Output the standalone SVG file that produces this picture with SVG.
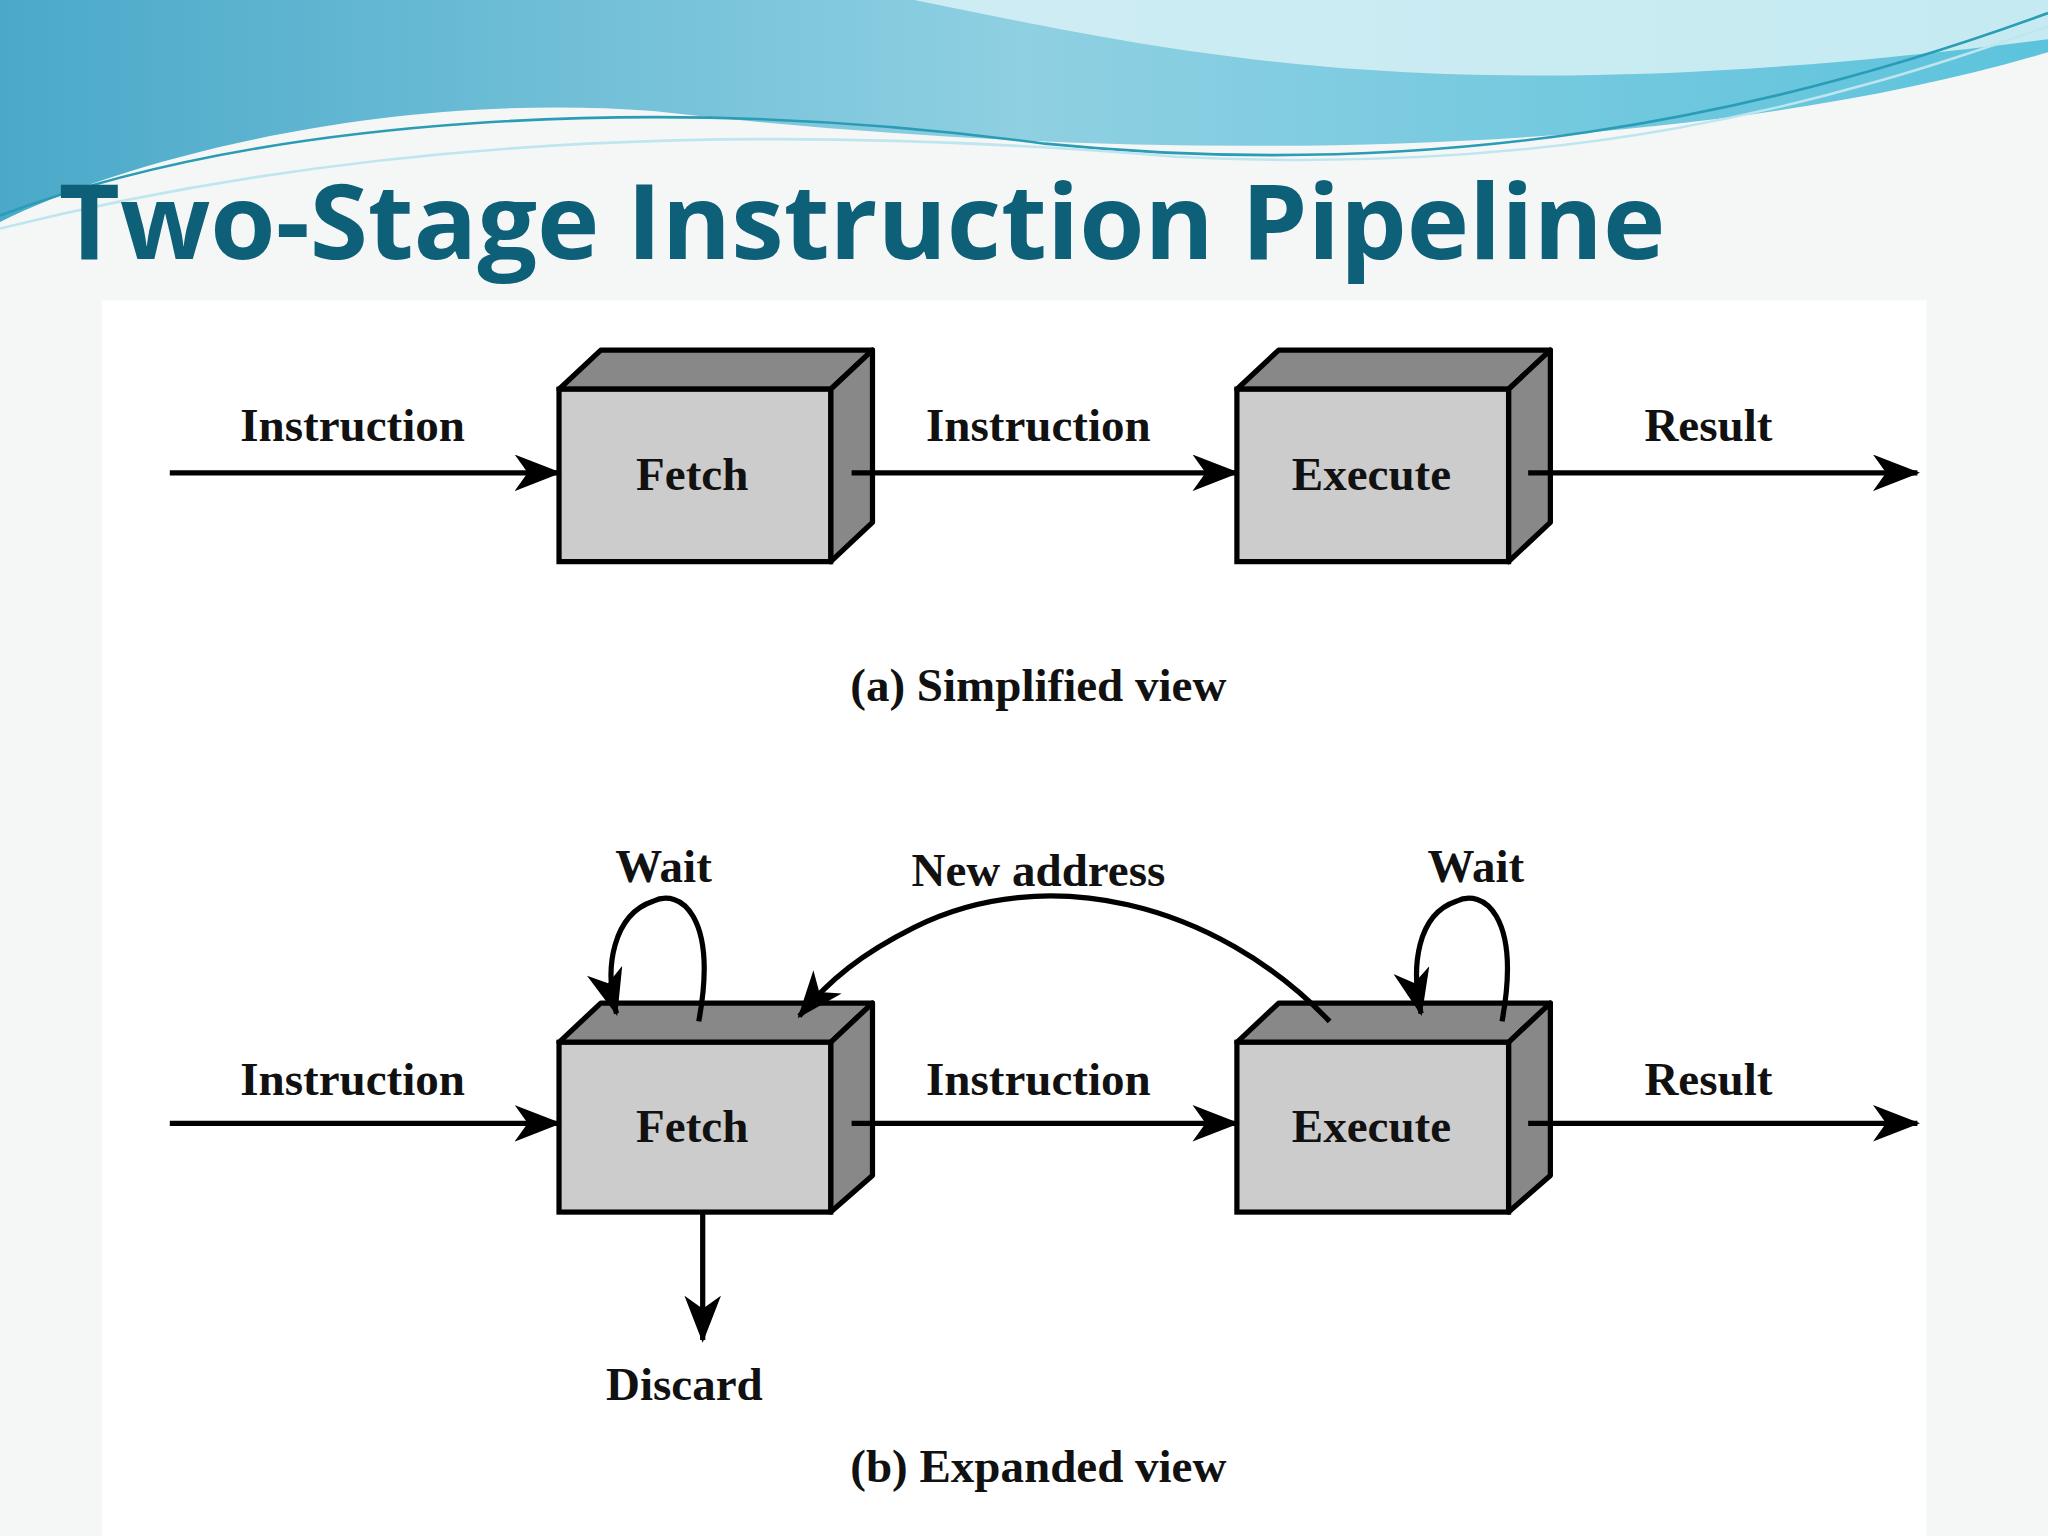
<svg xmlns="http://www.w3.org/2000/svg" width="2048" height="1536" viewBox="0 0 2048 1536">
<defs>
<linearGradient id="wg" x1="0" y1="0" x2="1" y2="0"><stop offset="0" stop-color="#4aa9c9"/><stop offset="0.5" stop-color="#8fd0e2"/><stop offset="1" stop-color="#5cc3dc"/></linearGradient>
<marker id="ah" viewBox="0 0 36 28" refX="34" refY="14" markerWidth="36" markerHeight="28" markerUnits="userSpaceOnUse" orient="auto"><path d="M0,0 L36,14 L0,28 L10,14 Z" fill="#000"/></marker>
<style>
.lbl{font-family:"Liberation Serif",serif;font-weight:bold;font-size:36px;fill:#111;text-anchor:middle}
.front{fill:#cccccc;stroke:#000;stroke-width:4}
.dark{fill:#888888;stroke:#000;stroke-width:4;stroke-linejoin:round}
.ln{stroke:#000;stroke-width:4;fill:none;marker-end:url(#ah)}
</style>
</defs>
<g transform="scale(1.30612)">
<rect width="1568" height="1176" fill="#f5f7f7"/>
<path d="M0,0 H1568 V40 C1300,120 900,130 500,85 C300,70 100,120 0,170 Z" fill="url(#wg)"/>
<path d="M700,0 C900,40 1100,90 1568,30 V0 Z" fill="#d8f1f6" opacity="0.85"/>
<path d="M0,165 C200,90 500,70 800,110 C1100,140 1350,90 1568,10" stroke="#2a9cb5" stroke-width="2" fill="none"/>
<path d="M0,175 C300,100 600,95 900,120 C1200,135 1400,80 1568,20" stroke="#bfe6ef" stroke-width="2" fill="none"/>
<rect x="78" y="230" width="1397" height="946" fill="#ffffff"/>
<text x="45" y="198" font-family="'Open Sans',sans-serif" font-weight="bold" font-size="80" fill="#0e6079" textLength="1230" lengthAdjust="spacingAndGlyphs">Two-Stage Instruction Pipeline</text>

<g id="fetch-a"><polygon class="dark" points="428,298 460,268 668,268 636,298"/><polygon class="dark" points="636,298 668,268 668,400 636,430"/><rect class="front" x="428" y="298" width="208" height="132"/><text class="lbl" x="530" y="375">Fetch</text></g>
<g id="execute-a"><polygon class="dark" points="947,298 979,268 1187,268 1155,298"/><polygon class="dark" points="1155,298 1187,268 1187,400 1155,430"/><rect class="front" x="947" y="298" width="208" height="132"/><text class="lbl" x="1050" y="375">Execute</text></g>
<g id="fetch-b"><polygon class="dark" points="428,798 460,768 668,768 636,798"/><polygon class="dark" points="636,798 668,768 668,900 636,928"/><rect class="front" x="428" y="798" width="208" height="130"/><text class="lbl" x="530" y="874">Fetch</text></g>
<g id="execute-b"><polygon class="dark" points="947,798 979,768 1187,768 1155,798"/><polygon class="dark" points="1155,798 1187,768 1187,900 1155,928"/><rect class="front" x="947" y="798" width="208" height="130"/><text class="lbl" x="1050" y="874">Execute</text></g>

<g id="connectors">
<line class="ln" x1="130" y1="362" x2="428" y2="362"/>
<line class="ln" x1="652" y1="362" x2="947" y2="362"/>
<line class="ln" x1="1170" y1="362" x2="1468" y2="362"/>
<line class="ln" x1="130" y1="860" x2="428" y2="860"/>
<line class="ln" x1="652" y1="860" x2="947" y2="860"/>
<line class="ln" x1="1170" y1="860" x2="1468" y2="860"/>
<path class="ln" d="M535,782 C550,700 520,680 500,690 C470,700 462,740 472,776"/>
<path class="ln" d="M1150,782 C1165,700 1135,680 1115,690 C1085,700 1080,740 1088,776"/>
<path class="ln" d="M1018,782 C930,690 800,660 700,710 C660,730 635,750 612,778"/>
<line class="ln" x1="538" y1="928" x2="538" y2="1026"/>
</g>
<text class="lbl" x="270" y="338">Instruction</text>
<text class="lbl" x="795" y="338">Instruction</text>
<text class="lbl" x="1308" y="338">Result</text>
<text class="lbl" x="795" y="537">(a) Simplified view</text>
<text class="lbl" x="270" y="838">Instruction</text>
<text class="lbl" x="795" y="838">Instruction</text>
<text class="lbl" x="1308" y="838">Result</text>
<text class="lbl" x="508" y="675">Wait</text>
<text class="lbl" x="795" y="678">New address</text>
<text class="lbl" x="1130" y="675">Wait</text>
<text class="lbl" x="524" y="1072">Discard</text>
<text class="lbl" x="795" y="1135">(b) Expanded view</text>
</g>
</svg>
